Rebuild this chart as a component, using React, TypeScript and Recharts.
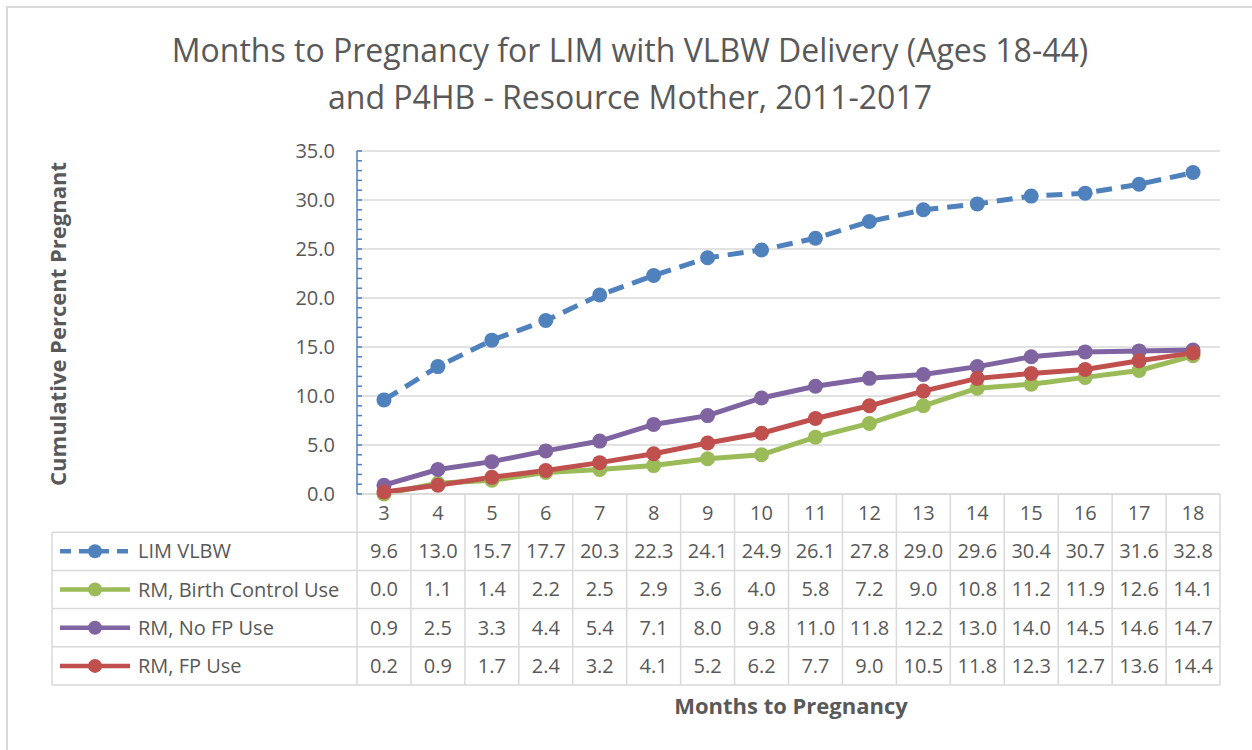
import React from "react";
import { LineChart, Line, XAxis, YAxis, CartesianGrid, Customized } from "recharts";

const months = [3, 4, 5, 6, 7, 8, 9, 10, 11, 12, 13, 14, 15, 16, 17, 18];
const limVlbw = [9.6, 13.0, 15.7, 17.7, 20.3, 22.3, 24.1, 24.9, 26.1, 27.8, 29.0, 29.6, 30.4, 30.7, 31.6, 32.8];
const rmBirthControl = [0.0, 1.1, 1.4, 2.2, 2.5, 2.9, 3.6, 4.0, 5.8, 7.2, 9.0, 10.8, 11.2, 11.9, 12.6, 14.1];
const rmNoFp = [0.9, 2.5, 3.3, 4.4, 5.4, 7.1, 8.0, 9.8, 11.0, 11.8, 12.2, 13.0, 14.0, 14.5, 14.6, 14.7];
const rmFp = [0.2, 0.9, 1.7, 2.4, 3.2, 4.1, 5.2, 6.2, 7.7, 9.0, 10.5, 11.8, 12.3, 12.7, 13.6, 14.4];

const series = [
  { key: "lim", name: "LIM VLBW", values: limVlbw, color: "#4F81BD", dash: "16 9" },
  { key: "bc", name: "RM, Birth Control Use", values: rmBirthControl, color: "#9BBB59", dash: undefined },
  { key: "nofp", name: "RM, No FP Use", values: rmNoFp, color: "#8064A2", dash: undefined },
  { key: "fp", name: "RM, FP Use", values: rmFp, color: "#C0504D", dash: undefined },
];

const yTicks = Array.from({ length: 36 }, (_, i) => i);
const majorTicks = [0, 5, 10, 15, 20, 25, 30, 35];

const data = months.map((m, i) => {
  const row: Record<string, number> = { month: m };
  series.forEach((s) => (row[s.key] = s.values[i]));
  return row;
});

const FONT = "'Open Sans', Lato, sans-serif";
const TEXT = "#595959";
const GRID = "#d9d9d9";
const ROW_H = 38.2;
const LEGEND_W = 305;
const HALF = 863 / 32; // half a category column
const FS = 20;

const YTick = (props: any) => {
  const { x, y, payload } = props;
  const v = payload.value;
  return (
    <g>
      <line x1={x} x2={x + 5} y1={y} y2={y} stroke="#4F81BD" strokeWidth={1.5} />
      {majorTicks.includes(v) && (
        <text x={x - 22} y={y + 7} textAnchor="end" fontSize={FS} fill={TEXT} fontFamily={FONT}>
          {v.toFixed(1)}
        </text>
      )}
    </g>
  );
};

const XTick = (props: any) => {
  const { x, y, payload, index } = props;
  const half = HALF;
  const i = payload.index ?? index;
  const bottom = y + ROW_H * 5;
  return (
    <g fontFamily={FONT}>
      <line x1={x - half} x2={x - half} y1={y} y2={bottom} stroke={GRID} strokeWidth={1.5} />
      {i === months.length - 1 && (
        <line x1={x + half} x2={x + half} y1={y} y2={bottom} stroke={GRID} strokeWidth={1.5} />
      )}
      {[1, 2, 3, 4, 5].map((r) => (
        <line key={r} x1={x - half} x2={x + half} y1={y + ROW_H * r} y2={y + ROW_H * r} stroke={GRID} strokeWidth={1.5} />
      ))}
      <text x={x} y={y + 26} textAnchor="middle" fontSize={FS} fill={TEXT}>
        {payload.value}
      </text>
      {series.map((s, r) => (
        <text key={s.key} x={x} y={y + ROW_H * (r + 1) + 26} textAnchor="middle" fontSize={FS} fill={TEXT}>
          {s.values[i].toFixed(1)}
        </text>
      ))}
      {i === 0 && (
        <g>
          {[1, 2, 3, 4, 5].map((r) => (
            <line key={r} x1={x - half - LEGEND_W} x2={x - half} y1={y + ROW_H * r} y2={y + ROW_H * r} stroke={GRID} strokeWidth={1.5} />
          ))}
          <line x1={x - half - LEGEND_W} x2={x - half - LEGEND_W} y1={y + ROW_H} y2={bottom} stroke={GRID} strokeWidth={1.5} />
          {series.map((s, r) => {
            const cy = y + ROW_H * (r + 1.5);
            const lx = x - half - LEGEND_W + 8;
            return (
              <g key={s.key}>
                <line x1={lx} x2={lx + 70} y1={cy} y2={cy} stroke={s.color} strokeWidth={4.5} strokeDasharray={s.dash ? "11 8" : undefined} />
                <circle cx={lx + 35} cy={cy} r={7} fill={s.color} />
                <text x={lx + 78} y={cy + 7} fontSize={FS} fill={TEXT}>
                  {s.name}
                </text>
              </g>
            );
          })}
        </g>
      )}
    </g>
  );
};

const Decor = () => (
  <g fontFamily={FONT}>
    <path d="M7,750 L7,7 L1252,7" fill="none" stroke={GRID} strokeWidth={2} />
    <text x={630} y={62} textAnchor="middle" fontSize={32} fill={TEXT}>
      Months to Pregnancy for LIM with VLBW Delivery (Ages 18-44)
    </text>
    <text x={630} y={109} textAnchor="middle" fontSize={32} fill={TEXT}>
      and P4HB - Resource Mother, 2011-2017
    </text>
    <text x={791} y={714} textAnchor="middle" fontSize={22} fontWeight="bold" fill={TEXT}>
      Months to Pregnancy
    </text>
    <text x={66} y={324} textAnchor="middle" fontSize={22} fontWeight="bold" fill={TEXT} transform="rotate(-90 66 324)">
      Cumulative Percent Pregnant
    </text>
  </g>
);

export default function App() {
  return (
    <div style={{ position: "absolute", left: 0, top: 0, width: 1252, height: 750, background: "#fff" }}>
      <LineChart width={1252} height={750} data={data} margin={{ top: 151, right: 32, left: 297, bottom: 226 }}>
        <CartesianGrid vertical={false} stroke={GRID} strokeWidth={1.5} horizontalValues={majorTicks} />
        <XAxis
          dataKey="month"
          height={30}
          interval={0}
          padding={{ left: HALF, right: HALF }}
          tickLine={false}
          tickSize={0}
          tickMargin={0}
          axisLine={{ stroke: GRID, strokeWidth: 1.5 }}
          tick={<XTick />}
        />
        <YAxis
          width={60}
          domain={[0, 35]}
          ticks={yTicks}
          interval={0}
          tickLine={false}
          tickSize={0}
          tickMargin={0}
          axisLine={{ stroke: "#4F81BD", strokeWidth: 1.5 }}
          tick={<YTick />}
        />
        {series.map((s) => (
          <Line
            key={s.key}
            dataKey={s.key}
            name={s.name}
            stroke={s.color}
            strokeWidth={5}
            strokeDasharray={s.dash}
            dot={{ r: 7.5, fill: s.color, stroke: s.color, strokeWidth: 0 }}
            activeDot={false}
            isAnimationActive={false}
          />
        ))}
        <Customized component={Decor} />
      </LineChart>
    </div>
  );
}
